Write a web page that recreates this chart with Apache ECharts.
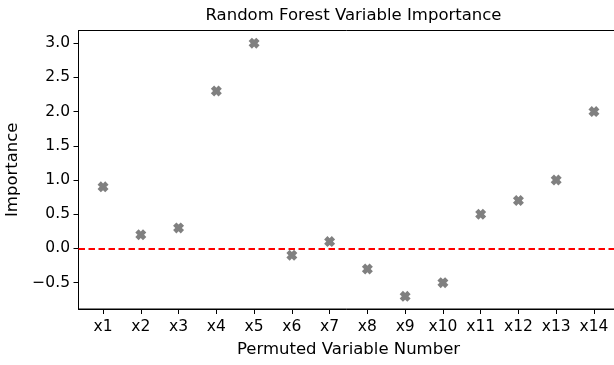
<!DOCTYPE html>
<html>
<head>
  <meta charset="UTF-8">
  <title>Random Forest Variable Importance</title>
  <script src="https://cdn.jsdelivr.net/npm/echarts@6/dist/echarts.min.js"></script>
  <style>
    html, body { margin: 0; padding: 0; background: #fff; }
    #chart { width: 614px; height: 365px; }
  </style>
</head>
<body>
  <div id="chart"></div>
  <script>
    // data
    const varNums = [1, 2, 3, 4, 5, 6, 7, 8, 9, 10, 11, 12, 13, 14]
    const importance = [0.9, 0.2, 0.3, 2.3, 3.0, -0.1, 0.1, -0.3, -0.7, -0.5, 0.5, 0.7, 1.0, 2.0]
    const yTicks = [-0.5, 0, 0.5, 1, 1.5, 2, 2.5, 3]

    const font = 'DejaVu Sans'
    // filled "X" marker
    const xMark = 'path://M3,0 L5,2 L7,0 L10,3 L8,5 L10,7 L7,10 L5,8 L3,10 L0,7 L2,5 L0,3 Z'

    const chart = echarts.init(document.getElementById('chart'))
    const option = {
      animation: false,
      title: {
        text: 'Random Forest Variable Importance',
        left: 348.5, top: 2, textAlign: 'center',
        textStyle: { fontFamily: font, fontSize: 16.5, fontWeight: 'normal', color: '#000' }
      },
      // plot runs past the right edge of the picture, like the reference
      grid: {
        left: 78.5, width: 540, top: 30.5, bottom: 56,
        outerBoundsMode: 'none', containLabel: false,
        show: true, borderColor: '#000', borderWidth: 1
      },
      xAxis: {
        type: 'value',
        min: 0.35, max: 14.65,
        name: 'Permuted Variable Number',
        nameLocation: 'middle', nameGap: 32,
        nameTextStyle: { fontFamily: font, fontSize: 16.5, color: '#000' },
        axisLine: { show: true, onZero: false, lineStyle: { color: '#000', width: 1 } },
        axisTick: { show: true, length: 5, customValues: varNums, lineStyle: { color: '#000' } },
        axisLabel: {
          customValues: varNums, margin: 10,
          fontFamily: font, fontSize: 15.5, color: '#000',
          formatter: v => 'x' + v
        },
        splitLine: { show: false }
      },
      yAxis: {
        type: 'value',
        min: -0.885, max: 3.185,
        name: 'Importance',
        nameLocation: 'middle', nameGap: 53,
        nameTextStyle: { fontFamily: font, fontSize: 16.5, color: '#000' },
        axisLine: { show: true, lineStyle: { color: '#000', width: 1 } },
        axisTick: { show: true, length: 5, customValues: yTicks, lineStyle: { color: '#000' } },
        axisLabel: {
          customValues: yTicks, margin: 8.5,
          fontFamily: font, fontSize: 15.5, color: '#000',
          formatter: v => v.toFixed(1).replace('-', '\u2212')
        },
        splitLine: { show: false }
      },
      series: [{
        type: 'scatter',
        data: varNums.map((n, i) => [n, importance[i]]),
        symbol: xMark,
        symbolSize: 11,
        itemStyle: { color: '#808080', opacity: 1 },
        markLine: {
          silent: true,
          symbol: 'none',
          label: { show: false },
          lineStyle: { color: '#ff0000', width: 2, type: [6.5, 3.5] },
          data: [{ yAxis: 0 }]
        }
      }]
    }
    chart.setOption(option)
  </script>
</body>
</html>
